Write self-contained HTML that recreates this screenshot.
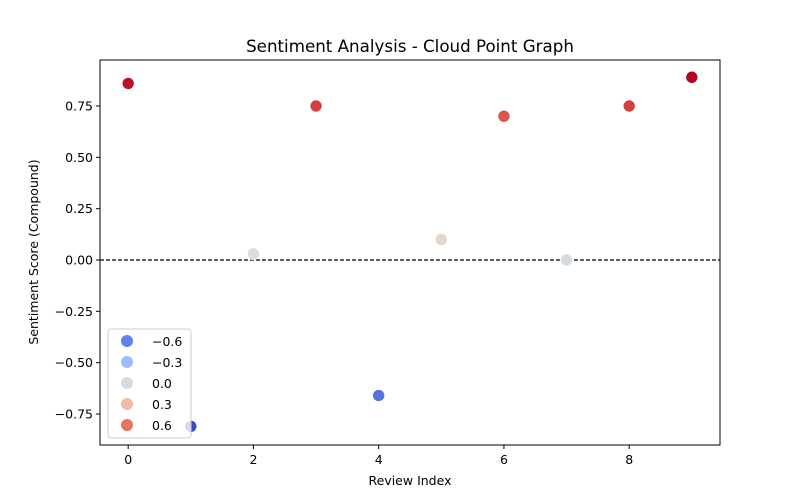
<!DOCTYPE html>
<html><head><meta charset="utf-8"><style>
body{margin:0;background:#fff;font-family:"DejaVu Sans","Liberation Sans",sans-serif}
</style></head><body>
<svg id="c" width="800" height="500" xmlns="http://www.w3.org/2000/svg" font-family="DejaVu Sans, Liberation Sans, sans-serif"></svg>
<script>
const indices=[0,1,2,3,4,5,6,7,8,9];
const scores=[0.86,-0.81,0.03,0.75,-0.66,0.10,0.70,0.00,0.75,0.89];
const xTicks=[0,2,4,6,8];
const yTicks=[-0.75,-0.5,-0.25,0,0.25,0.5,0.75];
const legendValues=[-0.6,-0.3,0.0,0.3,0.6];
const legendLabels=["\u22120.6","\u22120.3","0.0","0.3","0.6"];
const L=100,R=720,T=60,B=445;
const xmin=-0.45,xmax=9.45,ymin=-0.901,ymax=0.974;
const X=v=>L+(v-xmin)/(xmax-xmin)*(R-L);
const Y=v=>B-(v-ymin)/(ymax-ymin)*(B-T);
const stops=[[0,[59,76,192]],[0.125,[98,130,234]],[0.25,[141,176,254]],[0.375,[184,208,249]],[0.5,[221,221,221]],[0.625,[245,196,173]],[0.75,[244,154,123]],[0.875,[222,96,76]],[1,[180,4,38]]];
function cw(t){t=Math.max(0,Math.min(1,t));for(let i=1;i<stops.length;i++){if(t<=stops[i][0]){const a=stops[i-1],b=stops[i];const f=(t-a[0])/(b[0]-a[0]);const c=a[1].map((v,k)=>Math.round(v+(b[1][k]-v)*f));return `rgb(${c})`;}}return 'rgb(180,4,38)';}
const smin=Math.min(...scores),smax=Math.max(...scores);
const col=v=>cw((v-smin)/(smax-smin));
const svg=document.getElementById('c');const NS='http://www.w3.org/2000/svg';
function el(t,a,p){const e=document.createElementNS(NS,t);for(const k in a)e.setAttribute(k,a[k]);(p||svg).appendChild(e);return e;}
function txt(s,a){const e=el('text',Object.assign({'font-size':13.9,fill:'#000'},a));e.textContent=s;return e;}
let t=txt('Sentiment Analysis - Cloud Point Graph',{x:410,y:52,'text-anchor':'middle','font-size':16.7});


let z=el('line',{x1:L,x2:R,y1:Y(0),y2:Y(0),stroke:'#000','stroke-width':1.2,'stroke-dasharray':'4,2'});


indices.forEach((v,i)=>{const c=el('circle',{cx:X(v),cy:Y(scores[i]),r:6,fill:col(scores[i]),stroke:'#fff','stroke-width':0.6});

});
let fr=el('rect',{x:L,y:T,width:R-L,height:B-T,fill:'none',stroke:'#000','stroke-width':1});


xTicks.forEach(v=>{el('line',{x1:X(v),x2:X(v),y1:B,y2:B+4,stroke:'#000'});const l=txt(String(v),{x:X(v),y:B+19,'text-anchor':'middle','font-size':12.5});

});
yTicks.forEach(v=>{el('line',{x1:L-4,x2:L,y1:Y(v),y2:Y(v),stroke:'#000'});const s=(v<0?'\u2212':'')+Math.abs(v).toFixed(2);const l=txt(s,{x:L-7,y:Y(v)+4.5,'text-anchor':'end','font-size':12.5});

});
t=txt('Review Index',{x:410,y:485,'text-anchor':'middle','font-size':12.5});


t=txt('Sentiment Score (Compound)',{x:38,y:252,'text-anchor':'middle','font-size':12.5,transform:'rotate(-90 38 252)'});


const lg=el('g',{});


el('rect',{x:108,y:329,width:83,height:109,rx:3,fill:'rgba(255,255,255,0.8)',stroke:'#ccc'},lg);
legendValues.forEach((v,i)=>{const y=341+i*21;const g=el('g',{},lg);


el('circle',{cx:127,cy:y,r:6,fill:cw((v-smin)/(smax-smin))},g);
const tt=el('text',{x:152,y:y+5,'font-size':12.5},g);tt.textContent=legendLabels[i];});
</script>
</body></html>
